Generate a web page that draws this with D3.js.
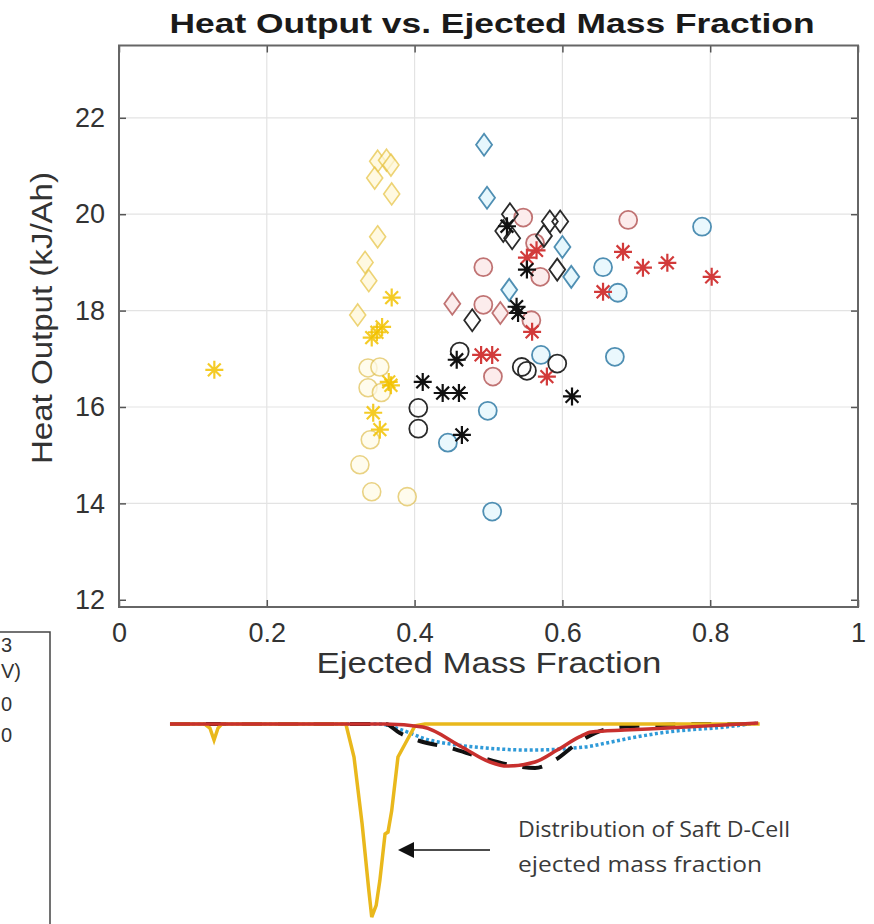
<!DOCTYPE html>
<html>
<head>
<meta charset="utf-8">
<script src="https://d3js.org/d3.v7.min.js"></script>
<style>
  body { margin: 0; background: #fff; }
  svg { display: block; font-family: "Liberation Sans", Arial, sans-serif; }
  .tick text { fill: #333; font-size: 27px; }
</style>
</head>
<body>
<svg id="chart" width="874" height="924"></svg>
<script>
// scatter data (x = ejected mass fraction, y = kJ/Ah)
const yellowCircleX = [0.337, 0.353, 0.337, 0.355, 0.340, 0.326, 0.342, 0.390];
const yellowCircleY = [16.81, 16.83, 16.40, 16.30, 15.32, 14.80, 14.24, 14.14];
const yellowDiamondX = [0.350, 0.362, 0.368, 0.346, 0.369, 0.350, 0.333, 0.338, 0.323];
const yellowDiamondY = [21.10, 21.12, 21.02, 20.75, 20.42, 19.53, 19.00, 18.62, 17.91];
const yellowStarX = [0.129, 0.369, 0.342, 0.349, 0.356, 0.365, 0.368, 0.344, 0.353];
const yellowStarY = [16.77, 18.27, 17.44, 17.55, 17.66, 16.52, 16.45, 15.88, 15.53];

const blackCircleX = [0.461, 0.405, 0.405, 0.545, 0.552, 0.593];
const blackCircleY = [17.15, 15.98, 15.55, 16.83, 16.75, 16.90];
const blackDiamondX = [0.478, 0.520, 0.529, 0.532, 0.575, 0.583, 0.597, 0.593];
const blackDiamondY = [17.80, 19.65, 20.00, 19.50, 19.55, 19.85, 19.85, 18.85];
const blackStarX = [0.411, 0.438, 0.460, 0.464, 0.457, 0.552, 0.538, 0.540, 0.613, 0.525];
const blackStarY = [16.52, 16.29, 16.29, 15.42, 16.98, 18.85, 18.08, 17.95, 16.22, 19.75];

const redCircleX = [0.547, 0.493, 0.570, 0.493, 0.558, 0.506, 0.689, 0.563];
const redCircleY = [19.93, 18.90, 18.70, 18.12, 17.80, 16.63, 19.88, 19.40];
const redDiamondX = [0.451, 0.516];
const redDiamondY = [18.14, 17.95];
const redStarX = [0.490, 0.505, 0.559, 0.579, 0.682, 0.709, 0.742, 0.802, 0.655, 0.565, 0.552];
const redStarY = [17.08, 17.08, 17.56, 16.63, 19.22, 18.89, 18.99, 18.70, 18.39, 19.25, 19.10];

const blueCircleX = [0.789, 0.655, 0.675, 0.671, 0.499, 0.445, 0.505, 0.571];
const blueCircleY = [19.74, 18.90, 18.37, 17.04, 15.92, 15.26, 13.83, 17.08];
const blueDiamondX = [0.494, 0.498, 0.528, 0.600, 0.612];
const blueDiamondY = [21.44, 20.34, 18.43, 19.32, 18.70];

const xTicks = [0, 0.2, 0.4, 0.6, 0.8, 1];
const yTicks = [12, 14, 16, 18, 20, 22];

// distribution curves drawn below (x = mass fraction, d = relative density, downwards)
const saftDistX = [0.069, 0.116, 0.123, 0.1286, 0.134, 0.139, 0.307, 0.318, 0.329, 0.338, 0.342, 0.348, 0.353, 0.360, 0.364, 0.369, 0.3775, 0.390, 0.4005, 0.414, 0.867];
const saftDistD = [0, 0, 0.21, 0.83, 0.21, 0, 0, 1.71, 5.18, 8.6, 10, 9.4, 8.1, 5.7, 5.6, 4.5, 1.71, 0.83, 0.1, 0, 0];
const redDistX = [0.069, 0.360, 0.411, 0.464, 0.502, 0.525, 0.563, 0.593, 0.623, 0.639, 0.684, 0.743, 0.819, 0.865];
const redDistD = [0, 0, 0.16, 1.19, 1.97, 2.18, 1.97, 1.35, 0.67, 0.41, 0.31, 0.21, 0.05, -0.05];
const blackDistX = [0.069, 0.360, 0.380, 0.407, 0.448, 0.488, 0.529, 0.563, 0.590, 0.617, 0.644, 0.678, 0.732, 0.786, 0.854];
const blackDistD = [0, 0, 0.47, 0.88, 1.24, 1.71, 2.12, 2.28, 1.87, 1.09, 0.47, 0.16, 0.05, 0, 0];
const blueDistX = [0.069, 0.352, 0.375, 0.420, 0.458, 0.495, 0.555, 0.631, 0.660, 0.692, 0.743, 0.819, 0.865];
const blueDistD = [0, 0, 0.21, 0.83, 1.09, 1.24, 1.35, 1.19, 0.98, 0.73, 0.41, 0.16, -0.05];

const svg = d3.select("#chart");

const x = d3.scaleLinear().domain([0, 1]).range([119, 858]);
const y = d3.scaleLinear().domain([11.85, 23.5]).range([607, 45.5]);
const yDist = d3.scaleLinear().domain([0, 10]).range([724, 917]);

// grid
svg.append("g").selectAll("line").data(xTicks.slice(1, -1)).enter().append("line")
  .attr("x1", d => x(d)).attr("x2", d => x(d))
  .attr("y1", y.range()[0]).attr("y2", y.range()[1])
  .attr("stroke", "#e3e3e3").attr("stroke-width", 1.2);
svg.append("g").selectAll("line").data(yTicks.slice(1)).enter().append("line")
  .attr("x1", x(0)).attr("x2", x(1))
  .attr("y1", d => y(d)).attr("y2", d => y(d))
  .attr("stroke", "#e3e3e3").attr("stroke-width", 1.2);

// axes, ticks pointing inward like matlab
const xAxis = d3.axisBottom(x).tickValues(xTicks).tickSize(-7).tickPadding(16)
  .tickFormat(d => d3.format("")(d));
const yAxis = d3.axisLeft(y).tickValues(yTicks).tickSize(-7).tickPadding(14);

svg.append("g").attr("transform", "translate(0," + y.range()[0] + ")").call(xAxis)
  .call(g => g.select(".domain").remove());
svg.append("g").attr("transform", "translate(" + x(0) + ",0)").call(yAxis)
  .call(g => g.select(".domain").remove());
svg.append("g").attr("transform", "translate(0," + y.range()[1] + ")")
  .call(d3.axisTop(x).tickValues(xTicks).tickSize(-7).tickFormat(""))
  .call(g => g.select(".domain").remove());
svg.append("g").attr("transform", "translate(" + x(1) + ",0)")
  .call(d3.axisRight(y).tickValues(yTicks).tickSize(-7).tickFormat(""))
  .call(g => g.select(".domain").remove());
svg.selectAll(".tick line").attr("stroke", "#555").attr("stroke-width", 1.5);

svg.append("rect")
  .attr("x", x(0)).attr("y", y.range()[1])
  .attr("width", x(1) - x(0)).attr("height", y.range()[0] - y.range()[1])
  .attr("fill", "none").attr("stroke", "#666").attr("stroke-width", 2);

// markers
const diamond = "M0,-11L8,0L0,11L-8,0Z";
const star = "M0,-9V9M-9,0H9M-6.4,-6.4L6.4,6.4M-6.4,6.4L6.4,-6.4";

function drawSet(xs, ys, shape, stroke, fill, width, opacity) {
  const pts = xs.map((d, i) => [d, ys[i]]);
  const g = svg.append("g");
  if (shape === "circle") {
    g.selectAll("circle").data(pts).enter().append("circle")
      .attr("cx", d => x(d[0])).attr("cy", d => y(d[1])).attr("r", 9);
  } else {
    g.selectAll("path").data(pts).enter().append("path")
      .attr("transform", d => "translate(" + x(d[0]) + "," + y(d[1]) + ")")
      .attr("d", shape === "diamond" ? diamond : star);
  }
  g.selectAll("*").attr("stroke", stroke).attr("fill", fill)
    .attr("stroke-width", width).attr("opacity", opacity);
}

drawSet(yellowCircleX, yellowCircleY, "circle", "#e2c35a", "#fffbe8", 1.6, 0.75);
drawSet(yellowDiamondX, yellowDiamondY, "diamond", "#e8c547", "#fff8d8", 1.6, 0.75);
drawSet(yellowStarX, yellowStarY, "star", "#f2c200", "none", 2.2, 0.85);

drawSet(blueCircleX, blueCircleY, "circle", "#4f8fb3", "#eaf8fd", 1.8, 1);
drawSet(blueDiamondX, blueDiamondY, "diamond", "#4f8fb3", "#e6f7fd", 1.8, 1);

drawSet(redCircleX, redCircleY, "circle", "#c07373", "#fcecec", 1.8, 1);
drawSet(redDiamondX, redDiamondY, "diamond", "#c07373", "#fcecec", 1.8, 1);
drawSet(redStarX, redStarY, "star", "#d23a3a", "none", 2.2, 1);

drawSet(blackCircleX, blackCircleY, "circle", "#2a2a2a", "none", 1.8, 1);
drawSet(blackDiamondX, blackDiamondY, "diamond", "#2a2a2a", "none", 1.8, 1);
drawSet(blackStarX, blackStarY, "star", "#111", "none", 2.2, 1);

// titles
svg.append("text")
  .attr("x", 492).attr("y", 33)
  .attr("text-anchor", "middle")
  .attr("font-size", 28).attr("font-weight", "bold").attr("fill", "#1a1a1a")
  .attr("textLength", 645).attr("lengthAdjust", "spacingAndGlyphs")
  .text("Heat Output vs. Ejected Mass Fraction");

svg.append("text")
  .attr("x", 489).attr("y", 673)
  .attr("text-anchor", "middle")
  .attr("font-size", 30).attr("fill", "#333")
  .attr("textLength", 345).attr("lengthAdjust", "spacingAndGlyphs")
  .text("Ejected Mass Fraction");

svg.append("text")
  .attr("transform", "translate(52,318) rotate(-90)")
  .attr("text-anchor", "middle")
  .attr("font-size", 30).attr("fill", "#333")
  .attr("textLength", 292).attr("lengthAdjust", "spacingAndGlyphs")
  .text("Heat Output (kJ/Ah)");

// distribution panel below
const line = d3.line().x(d => x(d[0])).y(d => yDist(d[1])).curve(d3.curveMonotoneX);
const zip = (a, b) => a.map((d, i) => [d, b[i]]);

svg.append("path").datum(zip(blueDistX, blueDistD)).attr("d", line)
  .attr("fill", "none").attr("stroke", "#2f9ad8").attr("stroke-width", 3.5)
  .attr("stroke-dasharray", "3,2.5");
svg.append("path").datum(zip(blackDistX, blackDistD)).attr("d", line)
  .attr("fill", "none").attr("stroke", "#111").attr("stroke-width", 4)
  .attr("stroke-dasharray", "20,16");
svg.append("path").datum(zip(saftDistX, saftDistD)).attr("d", d3.line().x(d => x(d[0])).y(d => yDist(d[1])))
  .attr("fill", "none").attr("stroke", "#e9b81c").attr("stroke-width", 3.5);
svg.append("path").datum(zip(redDistX, redDistD)).attr("d", line)
  .attr("fill", "none").attr("stroke", "#c8302e").attr("stroke-width", 3.5);

// annotation
svg.append("line")
  .attr("x1", 490).attr("x2", 412).attr("y1", 850).attr("y2", 850)
  .attr("stroke", "#111").attr("stroke-width", 1.5);
svg.append("path")
  .attr("d", "M398,850L414,842L414,858Z").attr("fill", "#111");

svg.append("text")
  .attr("x", 518).attr("y", 837)
  .attr("font-family", "'Open Sans', sans-serif")
  .attr("font-size", 22).attr("fill", "#3a3a3a")
  .attr("textLength", 272).attr("lengthAdjust", "spacingAndGlyphs")
  .text("Distribution of Saft D-Cell");
svg.append("text")
  .attr("x", 518).attr("y", 872)
  .attr("font-family", "'Open Sans', sans-serif")
  .attr("font-size", 22).attr("fill", "#3a3a3a")
  .attr("textLength", 244).attr("lengthAdjust", "spacingAndGlyphs")
  .text("ejected mass fraction");

// neighbour figure peeking in at the left edge
svg.append("path")
  .attr("d", "M0,632H50V924")
  .attr("fill", "none").attr("stroke", "#444").attr("stroke-width", 1.5);
const edgeBits = ["3", "V)", "0", "0"];
const edgeY = [652, 678, 711, 742];
svg.append("g").selectAll("text").data(edgeBits).enter().append("text")
  .attr("x", 1)
  .attr("y", (d, i) => edgeY[i])
  .attr("font-size", 20).attr("fill", "#333")
  .text(d => d);
</script>
</body>
</html>
